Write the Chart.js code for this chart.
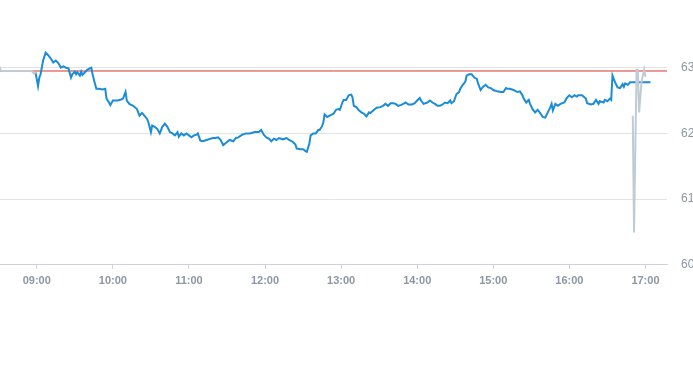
<!DOCTYPE html>
<html>
<head>
<meta charset="utf-8">
<script src="https://cdn.jsdelivr.net/npm/chart.js@4/dist/chart.umd.min.js"></script>
<style>
  html, body { margin: 0; padding: 0; background: #fff; overflow: hidden; }
  #wrap { width: 693px; height: 365px; position: relative; }
</style>
</head>
<body>
<div id="wrap"><canvas id="miGrafico" width="693" height="365"></canvas></div>
<script>
// Precio intradía (sesión regular)
var horas = [
  "08:59","09:01","09:02","09:03","09:05","09:07","09:09","09:11","09:13","09:15",
  "09:17","09:19","09:21","09:23","09:25","09:27","09:28","09:30","09:31","09:32",
  "09:34","09:35","09:36","09:38","09:40","09:43","09:44","09:46","09:47","09:49",
  "09:52","09:54","09:55","09:57","09:58","10:00","10:04","10:07","10:08","10:10",
  "10:11","10:13","10:16","10:19","10:21","10:23","10:24","10:27","10:28","10:30",
  "10:31","10:33","10:35","10:37","10:39","10:41","10:43","10:45","10:47","10:49",
  "10:51","10:52","10:54","10:56","10:58","11:00","11:02","11:04","11:06","11:07",
  "11:09","11:11","11:14","11:17","11:19","11:21","11:23","11:25","11:27","11:30",
  "11:32","11:35","11:37","11:39","11:42","11:45","11:48","11:50","11:52","11:55",
  "11:57","11:59","12:01","12:03","12:05","12:07","12:09","12:11","12:14","12:17",
  "12:19","12:22","12:24","12:25","12:28","12:30","12:32","12:33","12:35","12:36",
  "12:38","12:40","12:42","12:43","12:45","12:46","12:47","12:49","12:51","12:54",
  "12:56","12:58","12:59","13:01","13:02","13:04","13:06","13:08","13:09","13:10",
  "13:12","13:14","13:16","13:18","13:20","13:22","13:23","13:26","13:28","13:31",
  "13:33","13:35","13:37","13:39","13:41","13:43","13:45","13:47","13:49","13:51",
  "13:53","13:56","13:58","14:00","14:02","14:03","14:05","14:08","14:10","14:12",
  "14:14","14:16","14:18","14:20","14:22","14:24","14:26","14:27","14:29","14:31",
  "14:33","14:34","14:36","14:38","14:39","14:41","14:43","14:45","14:47","14:48",
  "14:50","14:52","14:54","14:56","14:58","15:00","15:03","15:06","15:08","15:10",
  "15:11","15:13","15:16","15:19","15:21","15:23","15:24","15:26","15:28","15:29",
  "15:31","15:33","15:35","15:37","15:39","15:41","15:43","15:45","15:46","15:47",
  "15:49","15:51","15:53","15:56","15:58","16:00","16:02","16:04","16:06","16:07",
  "16:10","16:13","16:14","16:17","16:19","16:21","16:23","16:24","16:27","16:28",
  "16:30","16:32","16:33","16:34","16:36","16:38","16:40","16:42","16:43","16:44",
  "16:46","16:47","16:48","17:04"
];
var precios = [
  62.93,62.72,62.85,62.90,63.11,63.23,63.19,63.14,63.08,63.11,
  63.07,63.00,63.02,63.00,62.99,62.85,62.90,62.94,62.90,62.93,
  62.88,62.94,62.89,62.93,62.97,63.00,62.90,62.75,62.68,62.68,
  62.67,62.68,62.53,62.47,62.43,62.50,62.50,62.52,62.53,62.63,
  62.50,62.45,62.42,62.37,62.27,62.31,62.29,62.22,62.17,62.02,
  62.12,62.10,62.07,62.00,62.10,62.15,62.10,62.02,62.00,61.97,
  62.02,61.95,62.00,61.97,62.00,61.97,61.94,61.97,61.98,62.00,
  61.89,61.88,61.90,61.92,61.93,61.93,61.94,61.90,61.82,61.87,
  61.90,61.88,61.93,61.94,61.98,62.00,62.00,62.01,62.02,62.02,
  62.05,61.98,61.94,61.92,61.88,61.92,61.90,61.93,61.91,61.93,
  61.90,61.87,61.83,61.77,61.76,61.76,61.73,61.72,61.85,61.97,
  62.00,62.00,62.05,62.05,62.11,62.17,62.29,62.25,62.27,62.30,
  62.36,62.37,62.36,62.47,62.51,62.51,62.58,62.59,62.55,62.42,
  62.40,62.35,62.32,62.30,62.26,62.32,62.31,62.36,62.39,62.40,
  62.42,62.45,62.42,62.46,62.46,62.45,62.42,62.43,62.45,62.47,
  62.44,62.44,62.46,62.50,62.54,62.50,62.45,62.47,62.50,62.47,
  62.45,62.42,62.42,62.44,62.47,62.46,62.50,62.46,62.49,62.60,
  62.63,62.68,62.74,62.79,62.88,62.90,62.90,62.85,62.83,62.76,
  62.66,62.71,62.74,62.70,62.69,62.66,62.64,62.63,62.63,62.69,
  62.68,62.68,62.66,62.63,62.64,62.58,62.53,62.47,62.51,62.45,
  62.37,62.32,62.36,62.31,62.25,62.24,62.32,62.40,62.45,62.35,
  62.45,62.42,62.45,62.47,62.54,62.58,62.55,62.58,62.56,62.58,
  62.58,62.53,62.46,62.44,62.45,62.51,62.45,62.49,62.47,62.51,
  62.49,62.53,62.51,62.88,62.78,62.70,62.69,62.75,62.71,62.76,
  62.74,62.76,62.78,62.78
];

// Negociación fuera de horario (gris)
var horasPre = ["08:30","08:32","08:56","08:58","08:59"];
var preciosPre = [63.03,62.95,62.95,62.91,62.93];
var horasPost = ["16:50","16:51","16:53","16:54","16:55","16:57","16:59","17:00"];
var preciosPost = [62.27,60.49,62.97,62.97,62.32,62.80,62.97,62.86];

// Cierre anterior
var cierreAnterior = 62.95;

// Ejes
var inicioEje = "08:31";
var finEje = "17:17";
var ticksHoras = ["09:00","10:00","11:00","12:00","13:00","14:00","15:00","16:00","17:00"];
var ticksPrecio = [60, 61, 62, 63];
var precioMin = 60;
var precioMax = 63.3;

function aMinutos(h) {
  var p = h.split(":");
  return parseInt(p[0], 10) * 60 + parseInt(p[1], 10);
}
function aHora(m) {
  var hh = Math.floor(m / 60), mm = Math.round(m % 60);
  return (hh < 10 ? "0" : "") + hh + ":" + (mm < 10 ? "0" : "") + mm;
}
function puntos(hs, vs) {
  return hs.map(function (h, i) { return { x: aMinutos(h), y: vs[i] }; });
}

var ctx = document.getElementById("miGrafico").getContext("2d");
var myChart = new Chart(ctx, {
  type: "line",
  data: {
    datasets: [
      {
        label: "fuera de horario",
        data: puntos(horasPre, preciosPre).concat([{ x: null, y: null }], puntos(horasPost, preciosPost)),
        borderColor: "#bfcbd5",
        borderWidth: 2,
        pointRadius: 0,
        spanGaps: false,
        tension: 0
      },
      {
        label: "precio",
        data: puntos(horas, precios),
        borderColor: "#1a8cd8",
        borderWidth: 2,
        pointRadius: 0,
        tension: 0
      },
      {
        label: "cierre anterior",
        data: [
          { x: aMinutos(inicioEje), y: cierreAnterior },
          { x: aMinutos(finEje), y: cierreAnterior }
        ],
        borderColor: "#d8322b",
        borderWidth: 1,
        pointRadius: 0
      }
    ]
  },
  options: {
    responsive: false,
    animation: false,
    layout: { padding: { top: 48, bottom: 71, left: 0, right: 0 } },
    plugins: { legend: { display: false }, tooltip: { enabled: false } },
    scales: {
      x: {
        type: "linear",
        min: aMinutos(inicioEje),
        max: aMinutos(finEje),
        afterBuildTicks: function (scale) {
          scale.ticks = ticksHoras.map(function (h) { return { value: aMinutos(h) }; });
        },
        ticks: {
          autoSkip: false,
          maxRotation: 0,
          padding: 6,
          color: "#8d96a2",
          font: { family: "Liberation Sans, Arial, sans-serif", size: 11, weight: "bold" },
          callback: function (v) { return aHora(v); }
        },
        grid: {
          drawOnChartArea: false,
          drawTicks: true,
          tickLength: 4,
          color: "#cdd1da"
        },
        border: { display: true, color: "#cdd1da" }
      },
      y: {
        position: "right",
        min: precioMin,
        max: precioMax,
        afterBuildTicks: function (scale) {
          scale.ticks = ticksPrecio.map(function (v) { return { value: v }; });
        },
        afterFit: function (scale) { scale.width = 26; },
        ticks: {
          padding: 14,
          color: "#8d96a2",
          font: { family: "Liberation Sans, Arial, sans-serif", size: 12 },
          callback: function (v) { return v.toFixed(2); }
        },
        grid: { drawTicks: false, color: "#e3e3e3" },
        border: { display: false }
      }
    }
  }
});
</script>
</body>
</html>
